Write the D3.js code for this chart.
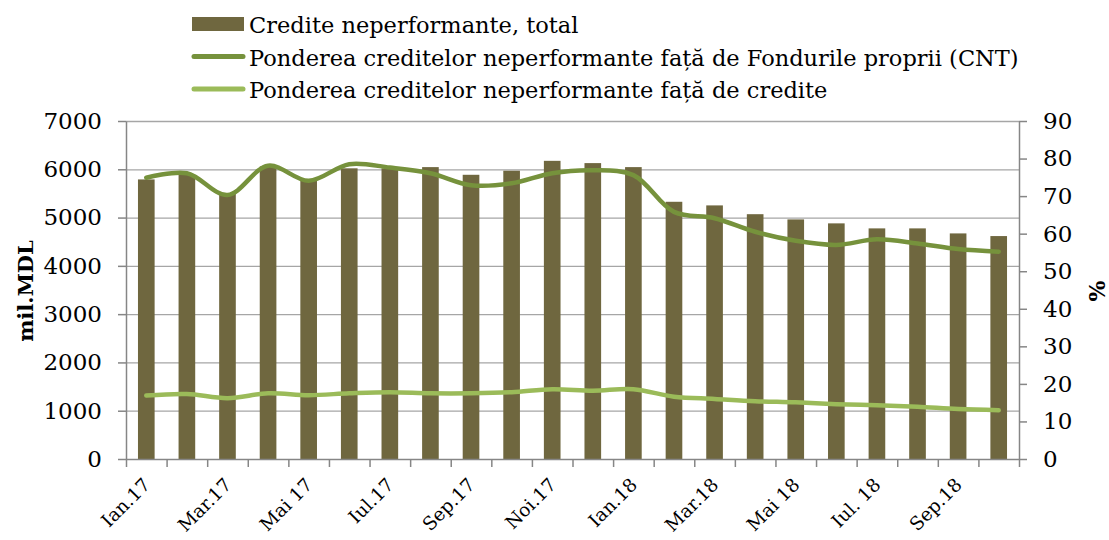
<!DOCTYPE html>
<html>
<head>
<meta charset="utf-8">
<script src="https://cdn.jsdelivr.net/npm/d3@7"></script>
<style>
  body { margin: 0; background: #fff; }
  svg { display: block; font-family: "DejaVu Serif", serif; }
</style>
</head>
<body>
<svg id="chart"></svg>
<script>
const months = ["Ian.17", "Feb.17", "Mar.17", "Apr.17", "Mai 17", "Iun.17", "Iul.17", "Aug.17", "Sep.17", "Oct.17", "Noi.17", "Dec.17",
    "Ian.18", "Feb.18", "Mar.18", "Apr.18", "Mai 18", "Iun.18", "Iul. 18", "Aug.18", "Sep.18", "Oct.18"];
const shownLabels = ["Ian.17", "Mar.17", "Mai 17", "Iul.17", "Sep.17", "Noi.17", "Ian.18", "Mar.18", "Mai 18", "Iul. 18", "Sep.18"];
const creditTotal = [5790, 5890, 5490, 6060, 5780, 6020, 6020, 6045, 5886, 5970, 6175, 6128,
    6045, 5327, 5252, 5070, 4962, 4880, 4776, 4776, 4672, 4617];
const cntShare = [74.9, 76.1, 70.3, 78.1, 74.1, 78.5, 77.6, 76.1, 72.9, 73.4, 76.1, 76.9,
    75.6, 65.8, 64.1, 60.5, 58.1, 57.0, 58.5, 57.4, 55.9, 55.2];
const creditShare = [16.9, 17.3, 16.2, 17.5, 17.0, 17.5, 17.8, 17.5, 17.5, 17.8, 18.6, 18.2,
    18.6, 16.6, 16.0, 15.4, 15.1, 14.6, 14.3, 13.9, 13.3, 13.0];
const leftTicks = [0, 1000, 2000, 3000, 4000, 5000, 6000, 7000];
const rightTicks = [0, 10, 20, 30, 40, 50, 60, 70, 80, 90];
const legendItems = [
    { type: "bar", color: "#6f673f", text: "Credite neperformante, total" },
    { type: "line", color: "#76923c", text: "Ponderea creditelor neperformante față de Fondurile proprii (CNT)" },
    { type: "line", color: "#9bbb59", text: "Ponderea creditelor neperformante față de credite" },
];

const width = 1109, height = 540;
const margin = { top: 121, right: 90, bottom: 81, left: 126 };
const plotW = width - margin.left - margin.right;
const plotH = height - margin.top - margin.bottom;

const svg = d3.select("#chart").attr("width", width).attr("height", height);
const g = svg.append("g").attr("transform", `translate(${margin.left},${margin.top})`);

// Scales
const x = d3.scaleBand().domain(months).range([0, plotW]);
const xEdge = d3.scaleLinear().domain([0, months.length]).range([0, plotW]);
const y = d3.scaleLinear().domain([0, 7000]).range([plotH, 0]);
const yRight = d3.scaleLinear().domain([0, 90]).range([plotH, 0]);
const barW = x.bandwidth() * 0.41;

// Gridlines
g.append("g")
    .call(d3.axisLeft(y).tickValues(leftTicks.slice(1)).tickSize(-plotW).tickFormat(""))
    .call(s => s.select(".domain").remove())
    .selectAll("line").attr("stroke", "#a6a6a6").attr("stroke-width", 1.3);

// Bars
g.selectAll(".bar")
    .data(creditTotal)
    .enter()
    .append("rect")
    .attr("x", (d, i) => x(months[i]) + x.bandwidth() / 2 - barW / 2)
    .attr("y", d => y(d))
    .attr("width", barW)
    .attr("height", d => plotH - y(d))
    .attr("fill", "#6f673f");

// Lines
const line = d3.line()
    .x((d, i) => x(months[i]) + x.bandwidth() / 2)
    .y(d => yRight(d))
    .curve(d3.curveCatmullRom.alpha(0.5));

g.append("path").datum(creditShare).attr("d", line)
    .attr("fill", "none").attr("stroke", "#9bbb59").attr("stroke-width", 4.5).attr("stroke-linecap", "round");
g.append("path").datum(cntShare).attr("d", line)
    .attr("fill", "none").attr("stroke", "#76923c").attr("stroke-width", 4.5).attr("stroke-linecap", "round");

// Axes
const axisColor = "#868686";
const styleAxis = s => {
    s.select(".domain").attr("stroke", axisColor).attr("stroke-width", 1.5);
    s.selectAll(".tick line").attr("stroke", axisColor).attr("stroke-width", 1.5);
    s.selectAll("text").attr("fill", "#000").style("font-size", "23px").style("font-family", "DejaVu Serif");
};

g.append("g")
    .call(d3.axisLeft(y).tickValues(leftTicks).tickFormat(d3.format("d")).tickSize(8).tickSizeOuter(0).tickPadding(16))
    .call(styleAxis);

g.append("g")
    .attr("transform", `translate(${plotW},0)`)
    .call(d3.axisRight(yRight).tickValues(rightTicks).tickSize(8).tickSizeOuter(0).tickPadding(16))
    .call(styleAxis);

g.append("g")
    .attr("transform", `translate(0,${plotH})`)
    .call(d3.axisBottom(xEdge).tickValues(d3.range(months.length + 1)).tickSize(8).tickSizeOuter(0).tickFormat(""))
    .call(styleAxis);

// X labels (every second month)
g.selectAll(".xlabel")
    .data(months.filter(m => shownLabels.includes(m)))
    .enter()
    .append("text")
    .attr("text-anchor", "end")
    .attr("transform", d => `translate(${x(d) + x.bandwidth() / 2 + 5},${plotH + 27}) rotate(-45)`)
    .style("font-size", "18.5px")
    .text(d => d);

// Axis titles
svg.append("text")
    .attr("transform", `translate(33,291) rotate(-90)`)
    .attr("text-anchor", "middle")
    .style("font-size", "21px")
    .style("font-weight", "bold")
    .text("mil.MDL");

svg.append("text")
    .attr("transform", `translate(1105,291) rotate(-90)`)
    .attr("text-anchor", "middle")
    .style("font-size", "22px")
    .style("font-weight", "bold")
    .text("%");

// Legend
const legend = svg.append("g").attr("transform", "translate(192,0)");
const legendGroups = legend.selectAll("g")
    .data(legendItems)
    .enter()
    .append("g")
    .attr("transform", (d, i) => `translate(0,${24 + i * 32.5})`);

legendGroups.filter(d => d.type === "bar")
    .append("rect")
    .attr("y", -7)
    .attr("width", 52)
    .attr("height", 14)
    .attr("fill", d => d.color);

legendGroups.filter(d => d.type === "line")
    .append("line")
    .attr("x1", 2).attr("x2", 51)
    .attr("stroke", d => d.color)
    .attr("stroke-width", 5)
    .attr("stroke-linecap", "round");

legendGroups.append("text")
    .attr("x", 57)
    .attr("y", 9)
    .style("font-size", "22.5px")
    .text(d => d.text);
</script>
</body>
</html>
